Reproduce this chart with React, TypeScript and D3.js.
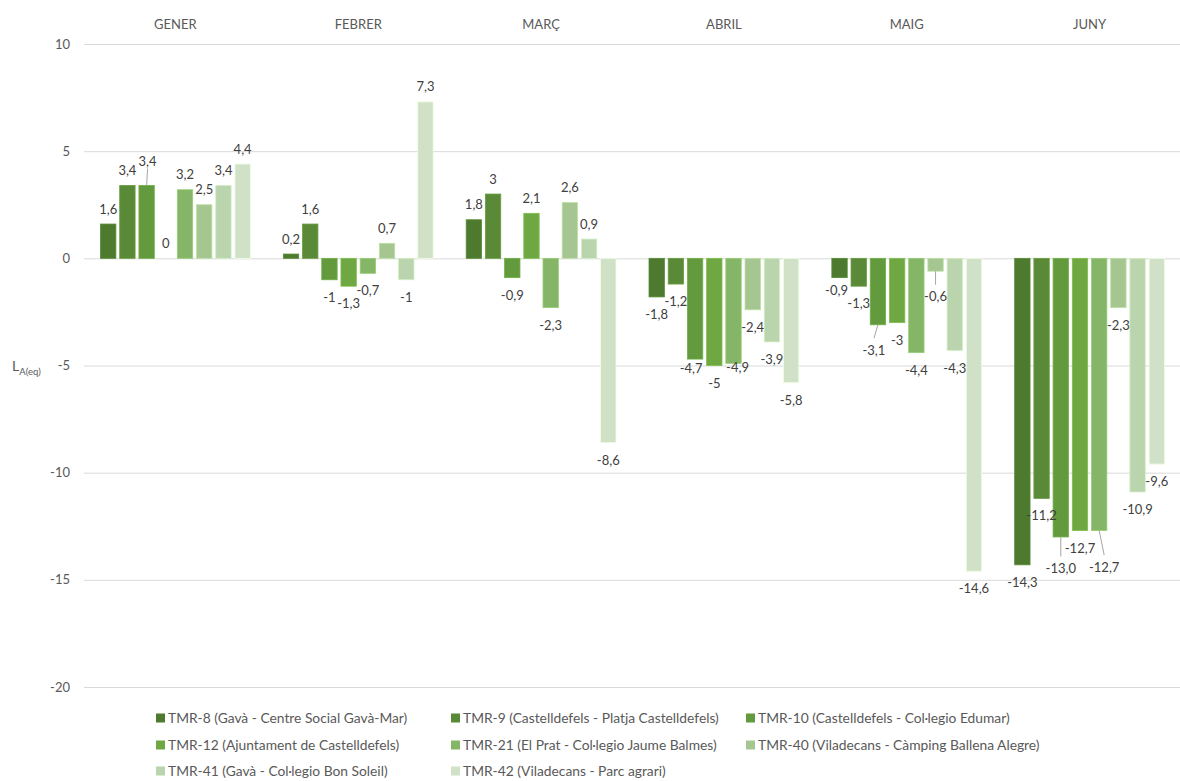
import React, { useEffect, useRef } from 'react';
import * as d3 from 'd3';

// Monthly variation of L_A(eq) per monitoring station
const months = ['GENER', 'FEBRER', 'MARÇ', 'ABRIL', 'MAIG', 'JUNY'];

const stations = [
  'TMR-8 (Gavà - Centre Social Gavà-Mar)',
  'TMR-9 (Castelldefels - Platja Castelldefels)',
  'TMR-10 (Castelldefels - Col·legio Edumar)',
  'TMR-12 (Ajuntament de Castelldefels)',
  'TMR-21 (El Prat - Col·legio Jaume Balmes)',
  'TMR-40 (Viladecans - Càmping Ballena Alegre)',
  'TMR-41 (Gavà - Col·legio Bon Soleil)',
  'TMR-42 (Viladecans - Parc agrari)',
];

const tmr8 = [1.6, 0.2, 1.8, -1.8, -0.9, -14.3];
const tmr9 = [3.4, 1.6, 3, -1.2, -1.3, -11.2];
const tmr10 = [3.4, -1, -0.9, -4.7, -3.1, -13.0];
const tmr12 = [0, -1.3, 2.1, -5, -3, -12.7];
const tmr21 = [3.2, -0.7, -2.3, -4.9, -4.4, -12.7];
const tmr40 = [2.5, 0.7, 2.6, -2.4, -0.6, -2.3];
const tmr41 = [3.4, -1, 0.9, -3.9, -4.3, -10.9];
const tmr42 = [4.4, 7.3, -8.6, -5.8, -14.6, -9.6];

const yTicks = [-20, -15, -10, -5, 0, 5, 10];

const colors = ['#4e7a2f', '#5a8a38', '#629a3d', '#6fa843', '#85b567', '#a6c691', '#bad4ae', '#d0e1c7'];

// labels that were dragged by hand in the original (series, month, nudge, leader line)
const labelNudges = [
  { s: 2, m: 0, dx: 1, dy: -9, leader: true },
  { s: 2, m: 3, dx: -4, dy: -8 },
  { s: 4, m: 3, dx: 4, dy: -13 },
  { s: 0, m: 4, dx: -3, dy: -5 },
  { s: 2, m: 4, dx: -4, dy: 8, leader: true },
  { s: 5, m: 4, dx: 0, dy: 8, leader: true },
  { s: 2, m: 5, dx: 0, dy: 14, leader: true, text: '-13,0' },
  { s: 4, m: 5, dx: 5, dy: 19, leader: true },
];

const W = 1180;
const H = 781;
const FONT = 'Lato, "Open Sans", sans-serif';

const App = () => {
  const ref = useRef(null);

  useEffect(() => {
    const root = d3.select(ref.current);
    root.selectAll('*').remove();

    const series = [tmr8, tmr9, tmr10, tmr12, tmr21, tmr40, tmr41, tmr42];

    const x0 = d3.scaleBand().domain(months).range([84, 1181]).padding(0);
    const x1 = d3.scaleBand()
      .domain(d3.range(series.length).map(String))
      .range([0, x0.bandwidth()])
      .paddingInner(0.2)
      .paddingOuter(0.86);
    const y = d3.scaleLinear().domain([-20, 10]).range([687, 44]);

    const svg = root.append('svg')
      .attr('width', W)
      .attr('height', H)
      .style('position', 'absolute')
      .style('left', 0)
      .style('top', 0)
      .style('font-family', FONT);

    svg.append('rect').attr('width', W).attr('height', H).attr('fill', '#fff');

    // --- gridlines + tick labels ---
    const grid = svg.append('g');
    grid.selectAll('line')
      .data(yTicks)
      .enter().append('line')
      .attr('x1', 84).attr('x2', 1181)
      .attr('y1', d => y(d) + 0.5).attr('y2', d => y(d) + 0.5)
      .attr('stroke', '#d9d9d9')
      .attr('stroke-width', 1);
    grid.selectAll('text')
      .data(yTicks)
      .enter().append('text')
      .attr('x', 70)
      .attr('y', d => y(d))
      .attr('dy', '0.35em')
      .attr('text-anchor', 'end')
      .attr('fill', '#595959')
      .style('font-size', '13px')
      .text(d => d);

    // axis title L_A(eq)
    const title = svg.append('text')
      .attr('x', 12)
      .attr('y', 371)
      .attr('fill', '#595959')
      .style('font-size', '14px');
    title.append('tspan').text('L');
    title.append('tspan').attr('dy', 4).style('font-size', '9.5px').text('A(eq)');

    // --- category labels on top ---
    svg.append('g').selectAll('text')
      .data(months)
      .enter().append('text')
      .attr('x', d => x0(d) + x0.bandwidth() / 2)
      .attr('y', 24)
      .attr('dy', '0.35em')
      .attr('text-anchor', 'middle')
      .attr('fill', '#595959')
      .style('font-size', '13px')
      .text(d => d);

    // --- bars ---
    const cells = [];
    series.forEach((vals, s) => {
      vals.forEach((v, m) => {
        cells.push({ s, m, v, cx: x0(months[m]) + x1(String(s)) + x1.bandwidth() / 2 });
      });
    });

    svg.append('g').selectAll('rect')
      .data(cells.filter(d => d.v !== 0))
      .enter().append('rect')
      .attr('x', d => x0(months[d.m]) + x1(String(d.s)))
      .attr('width', x1.bandwidth())
      .attr('y', d => Math.min(y(d.v), y(0)))
      .attr('height', d => Math.abs(y(d.v) - y(0)))
      .attr('fill', d => colors[d.s])
      .attr('stroke', d => d3.color(colors[d.s]).brighter(0.35).formatHex())
      .attr('stroke-width', 0.8);

    // --- data labels ---
    const fmt = v => String(v).replace('.', ',');
    const labels = cells.map(d => {
      const n = labelNudges.find(o => o.s === d.s && o.m === d.m);
      const yEnd = y(d.v);
      const cy = d.v >= 0 ? yEnd - 15 : yEnd + 17.5;
      return {
        ...d,
        yEnd,
        lx: d.cx + (n ? n.dx : 0),
        ly: cy + (n ? n.dy : 0),
        leader: n ? !!n.leader : false,
        text: n && n.text ? n.text : fmt(d.v),
      };
    });

    svg.append('g').selectAll('line')
      .data(labels.filter(d => d.leader))
      .enter().append('line')
      .attr('x1', d => d.cx).attr('y1', d => d.yEnd)
      .attr('x2', d => d.lx)
      .attr('y2', d => (d.v >= 0 ? d.ly + 7 : d.ly - 12))
      .attr('stroke', '#a6a6a6')
      .attr('stroke-width', 1);

    svg.append('g').selectAll('text')
      .data(labels)
      .enter().append('text')
      .attr('x', d => d.lx)
      .attr('y', d => d.ly)
      .attr('dy', '0.35em')
      .attr('text-anchor', 'middle')
      .attr('fill', '#404040')
      .style('font-size', '13px')
      .text(d => d.text);

    // --- legend, 3 columns ---
    const colX = [156, 451, 746];
    const rowY = [718, 745, 771];
    const legend = svg.append('g').selectAll('g')
      .data(stations)
      .enter().append('g')
      .attr('transform', (d, i) => `translate(${colX[i % 3]},${rowY[Math.floor(i / 3)]})`);
    legend.append('rect')
      .attr('x', 0).attr('y', -4.5)
      .attr('width', 9).attr('height', 9)
      .attr('fill', (d, i) => colors[i]);
    legend.append('text')
      .attr('x', 12)
      .attr('y', 0)
      .attr('dy', '0.35em')
      .attr('fill', '#595959')
      .style('font-size', '13.8px')
      .text(d => d);
  }, []);

  return <div ref={ref} />;
};

export default App;
